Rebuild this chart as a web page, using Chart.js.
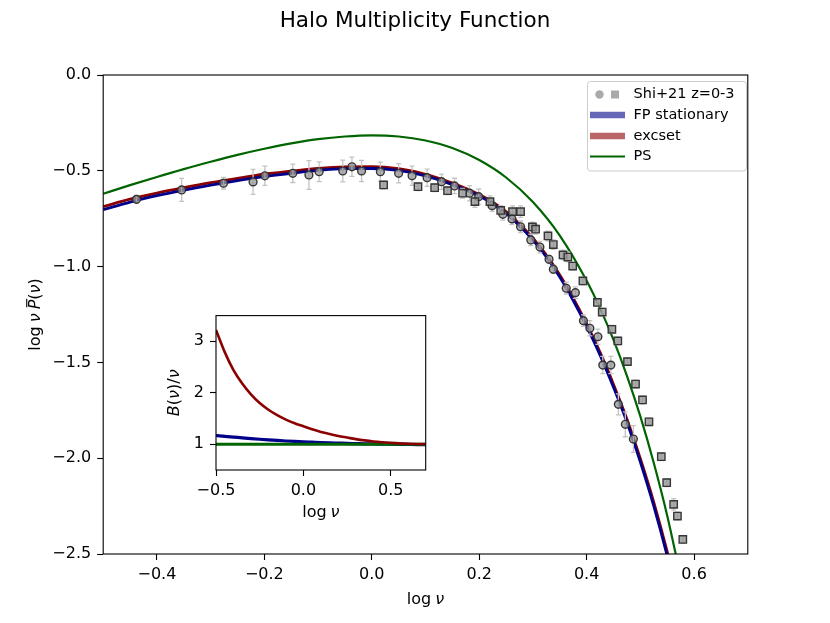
<!DOCTYPE html>
<html><head><meta charset="utf-8">
<script src="https://cdn.jsdelivr.net/npm/chart.js@4.4.1/dist/chart.umd.min.js"></script>
<style>
html,body{margin:0;padding:0;background:#fff;}
#wrap{position:relative;width:830px;height:623px;overflow:hidden;}
#main{position:absolute;left:0;top:0;}
#inset{position:absolute;left:140px;top:300px;}
</style></head><body>
<div id="wrap"><canvas id="main" width="830" height="623"></canvas><canvas id="inset" width="300" height="240"></canvas></div>
<script>
// ---------------- data ----------------
const xTicksMain = [-0.4, -0.2, 0.0, 0.2, 0.4, 0.6];
const yTicksMain = [0.0, -0.5, -1.0, -1.5, -2.0, -2.5];
const xTicksInset = [-0.5, 0.0, 0.5];
const yTicksInset = [1, 2, 3];

const logNuFP = [-0.5,-0.45,-0.4,-0.35,-0.3,-0.25,-0.2,-0.15,-0.1,-0.05,0,0.05,0.1,0.15,0.2,0.225,0.25,0.275,0.3,0.325,0.35,0.375,0.4,0.425,0.45,0.475,0.5,0.525,0.55,0.575];
const fpStationary = [-0.703,-0.663,-0.630,-0.601,-0.575,-0.551,-0.530,-0.513,-0.498,-0.489,-0.488,-0.498,-0.527,-0.572,-0.632,-0.672,-0.722,-0.787,-0.862,-0.950,-1.055,-1.177,-1.312,-1.462,-1.630,-1.812,-2.020,-2.250,-2.510,-2.800];
const excset = [-0.687,-0.648,-0.616,-0.588,-0.562,-0.539,-0.518,-0.502,-0.487,-0.479,-0.478,-0.489,-0.518,-0.564,-0.624,-0.664,-0.713,-0.778,-0.852,-0.940,-1.044,-1.165,-1.299,-1.448,-1.615,-1.796,-2.003,-2.231,-2.489,-2.777];

const logNuPS = [-0.5,-0.45,-0.4,-0.35,-0.3,-0.25,-0.2,-0.15,-0.1,-0.05,0,0.05,0.1,0.15,0.2,0.25,0.3,0.35,0.4,0.425,0.45,0.475,0.5,0.525,0.55,0.575];
const psCurve = [-0.620,-0.575,-0.532,-0.491,-0.453,-0.417,-0.385,-0.357,-0.335,-0.321,-0.315,-0.321,-0.342,-0.381,-0.444,-0.535,-0.663,-0.838,-1.074,-1.218,-1.382,-1.570,-1.782,-2.025,-2.300,-2.620];

// Shi+21 circles
const circX = [-0.438,-0.354,-0.276,-0.221,-0.199,-0.147,-0.117,-0.098,-0.054,-0.037,-0.019,0.016,0.050,0.075,0.103,0.130,0.154,0.182,0.199,0.224,0.244,0.261,0.277,0.296,0.313,0.330,0.338,0.362,0.379,0.394,0.406,0.421,0.430,0.445,0.459,0.472,0.487];
const circY = [-0.649,-0.600,-0.565,-0.558,-0.526,-0.513,-0.522,-0.505,-0.501,-0.479,-0.501,-0.505,-0.513,-0.526,-0.536,-0.557,-0.579,-0.617,-0.635,-0.682,-0.727,-0.751,-0.792,-0.861,-0.898,-0.962,-1.014,-1.113,-1.136,-1.282,-1.322,-1.366,-1.514,-1.514,-1.719,-1.823,-1.900];
const circErr = [0.02,0.06,0.03,0.065,0.05,0.048,0.075,0.052,0.057,0.05,0.055,0.05,0.05,0.05,0.045,0.04,0.04,0.04,0.04,0.03,0.03,0.03,0.03,0.03,0.03,0.02,0.02,0.03,0.03,0.03,0.04,0.04,0.045,0.045,0.055,0.065,0.07];
// Shi+21 squares
const sqX = [0.022,0.086,0.117,0.141,0.169,0.192,0.220,0.240,0.262,0.277,0.299,0.305,0.328,0.338,0.356,0.365,0.374,0.393,0.420,0.429,0.447,0.458,0.476,0.491,0.504,0.516,0.539,0.549,0.562,0.569,0.579];
const sqY = [-0.574,-0.583,-0.588,-0.604,-0.617,-0.661,-0.661,-0.707,-0.713,-0.713,-0.793,-0.805,-0.840,-0.885,-0.939,-0.950,-0.997,-1.075,-1.187,-1.237,-1.327,-1.388,-1.496,-1.613,-1.696,-1.810,-1.992,-2.128,-2.241,-2.302,-2.424];
const sqErr = [0.02,0.02,0.02,0.02,0.025,0.03,0.03,0.025,0.03,0.03,0.025,0.025,0.025,0.025,0.025,0.025,0.02,0.02,0.02,0.02,0.02,0.02,0.02,0.02,0.02,0.02,0.02,0.02,0.03,0.02,0.02];

// inset B(nu)/nu
const insetX = [-0.5,-0.45,-0.4,-0.35,-0.3,-0.25,-0.2,-0.15,-0.1,-0.05,0,0.05,0.1,0.15,0.2,0.25,0.3,0.35,0.4,0.45,0.5,0.55,0.6,0.65,0.7];
const insetExcset = [3.22,2.79,2.44,2.18,1.97,1.80,1.67,1.565,1.48,1.41,1.35,1.29,1.24,1.20,1.16,1.13,1.10,1.075,1.055,1.04,1.028,1.018,1.011,1.006,1.003];
const insetFP = [1.17,1.155,1.14,1.125,1.11,1.097,1.085,1.074,1.064,1.055,1.047,1.04,1.033,1.027,1.022,1.017,1.013,1.009,1.006,1.003,1.0,0.998,0.996,0.994,0.993];
const insetPSX = [-0.5, 0.7];
const insetPS = [1.0, 1.0];

// ---------------- helpers ----------------
const FONT = "'DejaVu Sans', sans-serif";
const fmt1 = v => (v < -1e-9 ? '\u2212' : '') + Math.abs(v).toFixed(1);
const pts = (X, Y) => X.map((x, i) => ({x: x, y: Y[i]}));
const COL_FP = '#00008b', COL_EX = '#8b0000', COL_PS = '#006400';

function drawRich(ctx, parts, x, y, size) {
  const ws = parts.map(p => {
    if (typeof p === 'number') return p;
    ctx.font = (p[1] === 'i' ? 'italic ' : '') + size + 'px ' + FONT;
    return ctx.measureText(p[0]).width;
  });
  const total = ws.reduce((a, b) => a + b, 0);
  let cx = x - total / 2;
  ctx.textAlign = 'left'; ctx.textBaseline = 'middle'; ctx.fillStyle = '#000';
  parts.forEach((p, i) => {
    if (typeof p !== 'number') {
      ctx.font = (p[1] === 'i' ? 'italic ' : '') + size + 'px ' + FONT;
      ctx.fillText(p[0], cx, y);
      if (p[2]) {
        ctx.save(); ctx.strokeStyle = '#000'; ctx.lineWidth = 1.1;
        ctx.beginPath(); ctx.moveTo(cx + 2, y - size * 0.58); ctx.lineTo(cx + ws[i] + 1, y - size * 0.58); ctx.stroke();
        ctx.restore();
      }
    }
    cx += ws[i];
  });
}

function drawErrors(chart) {
  const ctx = chart.ctx, xs = chart.scales.x, ys = chart.scales.y;
  ctx.save();
  ctx.strokeStyle = '#c3c3c3'; ctx.lineWidth = 1.3;
  const d = (X, Y, E) => X.forEach((x, i) => {
    const px = xs.getPixelForValue(x), p1 = ys.getPixelForValue(Y[i] + E[i]), p2 = ys.getPixelForValue(Y[i] - E[i]);
    ctx.beginPath();
    ctx.moveTo(px, p1); ctx.lineTo(px, p2);
    ctx.moveTo(px - 2.5, p1); ctx.lineTo(px + 2.5, p1);
    ctx.moveTo(px - 2.5, p2); ctx.lineTo(px + 2.5, p2);
    ctx.stroke();
  });
  d(circX, circY, circErr); d(sqX, sqY, sqErr);
  ctx.restore();
}

function drawLegend(ctx) {
  ctx.save();
  const x0 = 587.5, y0 = 81.5, w = 159, h = 89.5, r = 3;
  ctx.beginPath();
  ctx.moveTo(x0 + r, y0); ctx.lineTo(x0 + w - r, y0); ctx.arcTo(x0 + w, y0, x0 + w, y0 + r, r);
  ctx.lineTo(x0 + w, y0 + h - r); ctx.arcTo(x0 + w, y0 + h, x0 + w - r, y0 + h, r);
  ctx.lineTo(x0 + r, y0 + h); ctx.arcTo(x0, y0 + h, x0, y0 + h - r, r);
  ctx.lineTo(x0, y0 + r); ctx.arcTo(x0, y0, x0 + r, y0, r); ctx.closePath();
  ctx.fillStyle = 'rgba(255,255,255,0.8)'; ctx.fill();
  ctx.strokeStyle = '#cccccc'; ctx.lineWidth = 1; ctx.stroke();
  const rows = [94.5, 115, 136, 156.5];
  ctx.fillStyle = '#aaaaaa';
  ctx.beginPath(); ctx.arc(599.5, rows[0], 4.2, 0, Math.PI * 2); ctx.fill();
  ctx.fillRect(611, rows[0] - 4, 8, 8);
  ctx.lineCap = 'butt';
  ctx.strokeStyle = 'rgba(0,0,139,0.6)'; ctx.lineWidth = 6.5;
  ctx.beginPath(); ctx.moveTo(590, rows[1]); ctx.lineTo(625, rows[1]); ctx.stroke();
  ctx.strokeStyle = 'rgba(139,0,0,0.6)';
  ctx.beginPath(); ctx.moveTo(590, rows[2]); ctx.lineTo(625, rows[2]); ctx.stroke();
  ctx.strokeStyle = COL_PS; ctx.lineWidth = 2;
  ctx.beginPath(); ctx.moveTo(590, rows[3]); ctx.lineTo(625, rows[3]); ctx.stroke();
  ctx.fillStyle = '#000'; ctx.font = '14.5px ' + FONT; ctx.textAlign = 'left'; ctx.textBaseline = 'middle';
  ['Shi+21 z=0-3', 'FP stationary', 'excset', 'PS'].forEach((t, i) => ctx.fillText(t, 633.5, rows[i]));
  ctx.restore();
}

function frame(chart) {
  const a = chart.chartArea, ctx = chart.ctx;
  ctx.save(); ctx.strokeStyle = '#000'; ctx.lineWidth = 1.1;
  ctx.strokeRect(a.left, a.top, a.right - a.left, a.bottom - a.top);
  ctx.restore();
}

const lineDS = (label, X, Y, color, width, order) => ({
  label: label, data: pts(X, Y), showLine: true, borderColor: color, backgroundColor: color,
  borderWidth: width, pointRadius: 0, pointHoverRadius: 0, cubicInterpolationMode: 'monotone', order: order
});

const axisCommon = (ticksArr, fmt) => ({
  type: 'linear',
  afterBuildTicks: s => { s.ticks = ticksArr.map(v => ({value: v})); },
  ticks: {callback: fmt, color: '#000', font: {family: FONT, size: 16}, padding: 5, maxRotation: 0, autoSkip: false},
  grid: {display: true, drawOnChartArea: false, drawTicks: true, tickLength: 6, tickWidth: 1.1, tickColor: '#000'},
  border: {display: false}
});

// ---------------- main chart ----------------
const mainPlugin = {
  id: 'mainDeco',
  beforeDraw(chart) { const c = chart.ctx; c.save(); c.fillStyle = '#fff'; c.fillRect(0, 0, chart.width, chart.height); c.restore(); },
  beforeDatasetDraw(chart, args) { if (chart.data.datasets[args.index].label === 'circles') drawErrors(chart); },
  afterDraw(chart) {
    const ctx = chart.ctx;
    frame(chart);
    ctx.save();
    ctx.fillStyle = '#000'; ctx.textAlign = 'center'; ctx.textBaseline = 'middle';
    ctx.font = '21.5px ' + FONT;
    ctx.fillText('Halo Multiplicity Function', 415, 21);
    drawRich(ctx, [['log', 'n'], 4, ['\u03bd', 'i']], (chart.chartArea.left + chart.chartArea.right) / 2, 600, 16);
    ctx.translate(36, (chart.chartArea.top + chart.chartArea.bottom) / 2);
    ctx.rotate(-Math.PI / 2);
    drawRich(ctx, [['log', 'n'], 4, ['\u03bd', 'i'], 4, ['P', 'i', true], ['(', 'n'], ['\u03bd', 'i'], [')', 'n']], 0, 0, 16);
    ctx.restore();
    drawLegend(ctx);
  }
};

const xMain = axisCommon(xTicksMain, v => fmt1(v));
xMain.min = -0.5; xMain.max = 0.7; xMain.position = 'bottom';
xMain.afterFit = s => { s.height = 69; };
const yMain = axisCommon(yTicksMain, v => fmt1(v));
yMain.min = -2.5; yMain.max = 0.0; yMain.position = 'left';
yMain.ticks.padding = 6;
yMain.afterFit = s => { s.width = 103.2; };

new Chart(document.getElementById('main'), {
  type: 'scatter',
  data: {datasets: [
    {label: 'squares', data: pts(sqX, sqY), pointStyle: 'rect', pointRadius: 5.2, pointHoverRadius: 5.2,
     backgroundColor: 'rgba(150,150,150,0.8)', borderColor: 'rgba(45,45,45,0.95)', borderWidth: 1.4, order: 1},
    {label: 'circles', data: pts(circX, circY), pointStyle: 'circle', pointRadius: 3.9, pointHoverRadius: 3.9,
     backgroundColor: 'rgba(150,150,150,0.75)', borderColor: 'rgba(45,45,45,0.95)', borderWidth: 1.4, order: 2},
    lineDS('FP stationary', logNuFP, fpStationary, COL_FP, 2.8, 3),
    lineDS('excset', logNuFP, excset, COL_EX, 2.8, 4),
    lineDS('PS', logNuPS, psCurve, COL_PS, 2.2, 5)
  ]},
  options: {
    responsive: false, animation: false, devicePixelRatio: 1,
    layout: {padding: {top: 75, right: 82.2, left: 0, bottom: 0}},
    plugins: {legend: {display: false}, tooltip: {enabled: false}, title: {display: false}},
    scales: {x: xMain, y: yMain}
  },
  plugins: [mainPlugin]
});

// ---------------- inset chart ----------------
const insetPlugin = {
  id: 'insetDeco',
  beforeDatasetsDraw(chart) {
    const a = chart.chartArea, c = chart.ctx;
    c.save(); c.fillStyle = '#fff'; c.fillRect(a.left, a.top, a.right - a.left, a.bottom - a.top); c.restore();
  },
  afterDraw(chart) {
    const ctx = chart.ctx, a = chart.chartArea;
    frame(chart);
    ctx.save();
    drawRich(ctx, [['log', 'n'], 4, ['\u03bd', 'i']], (a.left + a.right) / 2, 213, 16);
    ctx.translate(35, (a.top + a.bottom) / 2);
    ctx.rotate(-Math.PI / 2);
    drawRich(ctx, [['B', 'i'], ['(', 'n'], ['\u03bd', 'i'], [')/', 'n'], ['\u03bd', 'i']], 0, 0, 16);
    ctx.restore();
  }
};

const xIn = axisCommon(xTicksInset, v => fmt1(v));
xIn.min = -0.5; xIn.max = 0.7; xIn.position = 'bottom';
xIn.afterFit = s => { s.height = 70; };
const yIn = axisCommon(yTicksInset, v => String(v));
yIn.min = 0.5; yIn.max = 3.5; yIn.position = 'left';
yIn.ticks.padding = 6;
yIn.afterFit = s => { s.width = 76; };

new Chart(document.getElementById('inset'), {
  type: 'scatter',
  data: {datasets: [
    lineDS('excset', insetX, insetExcset, COL_EX, 2.6, 1),
    lineDS('PS', insetPSX, insetPS, COL_PS, 3.2, 2),
    lineDS('FP stationary', insetX, insetFP, COL_FP, 3.2, 3)
  ]},
  options: {
    responsive: false, animation: false, devicePixelRatio: 1,
    layout: {padding: {top: 14, right: 14.3, left: 0, bottom: 0}},
    plugins: {legend: {display: false}, tooltip: {enabled: false}, title: {display: false}},
    scales: {x: xIn, y: yIn}
  },
  plugins: [insetPlugin]
});
</script>
</body></html>
